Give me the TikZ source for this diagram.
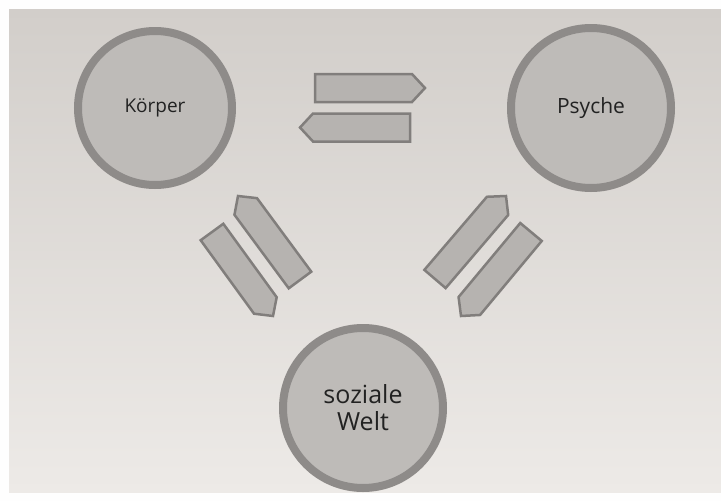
\documentclass[tikz,border=0pt]{standalone}
\usepackage{fontspec}
\setmainfont{Open Sans}
\usetikzlibrary{calc}
\definecolor{paperT}{HTML}{D2CECA}
\definecolor{paperB}{HTML}{EDEAE7}
\definecolor{ringc}{HTML}{8E8B89}
\definecolor{circfill}{HTML}{BEBBB8}
\definecolor{arrfill}{HTML}{B6B3B0}
\definecolor{arredge}{HTML}{817E7C}
\definecolor{txtc}{HTML}{222222}
\tikzset{
  circ/.style={circle, draw=ringc, line width=8pt, fill=circfill, text=txtc, align=center, inner sep=0pt},
  arrowbox/.style={draw=arredge, line width=2.5pt, fill=arrfill, line join=miter}
}
\newcommand\blockarrow[2]{%
  \coordinate (#1tb) at ($(#2)!13pt!(#1)$);
  \draw[arrowbox] ($(#1)!14pt!90:(#2)$) -- ($(#1tb)!14pt!-90:(#1)$) -- (#2)
     -- ($(#1tb)!14pt!90:(#1)$) -- ($(#1)!14pt!-90:(#2)$) -- cycle;
}
\begin{document}
\begin{tikzpicture}[x=1pt,y=-1pt]
  \useasboundingbox (0,0) rectangle (721,501);
  \fill[white!97!paperB] (0,0) rectangle (721,501);
  \shade[top color=paperT, bottom color=paperB] (9,9) rectangle (721,492);

  \node[circ, minimum size=154pt, font=\fontsize{19}{23}\selectfont] (koerper) at (155,108) {Körper};
  \node[circ, minimum size=160pt, font=\fontsize{21}{25}\selectfont] (psyche) at (591,108) {Psyche};
  \node[circ, minimum size=160pt, font=\fontsize{25}{27}\selectfont] (welt) at (363,408) {soziale\\Welt};

  % top pair
  \coordinate (aS) at (315,88);   \coordinate (aT) at (425,88);
  \coordinate (bS) at (410,127.5); \coordinate (bT) at (300,127.5);
  % left pair
  \coordinate (cS) at (300,280);  \coordinate (cT) at (238,196);
  \coordinate (dS) at (212,232);  \coordinate (dT) at (273,316);
  % right pair
  \coordinate (eS) at (435,279);  \coordinate (eT) at (506,196);
  \coordinate (fS) at (531,232);  \coordinate (fT) at (461,316);

  \blockarrow{aS}{aT}
  \blockarrow{bS}{bT}
  \blockarrow{cS}{cT}
  \blockarrow{dS}{dT}
  \blockarrow{eS}{eT}
  \blockarrow{fS}{fT}
\end{tikzpicture}
\end{document}
